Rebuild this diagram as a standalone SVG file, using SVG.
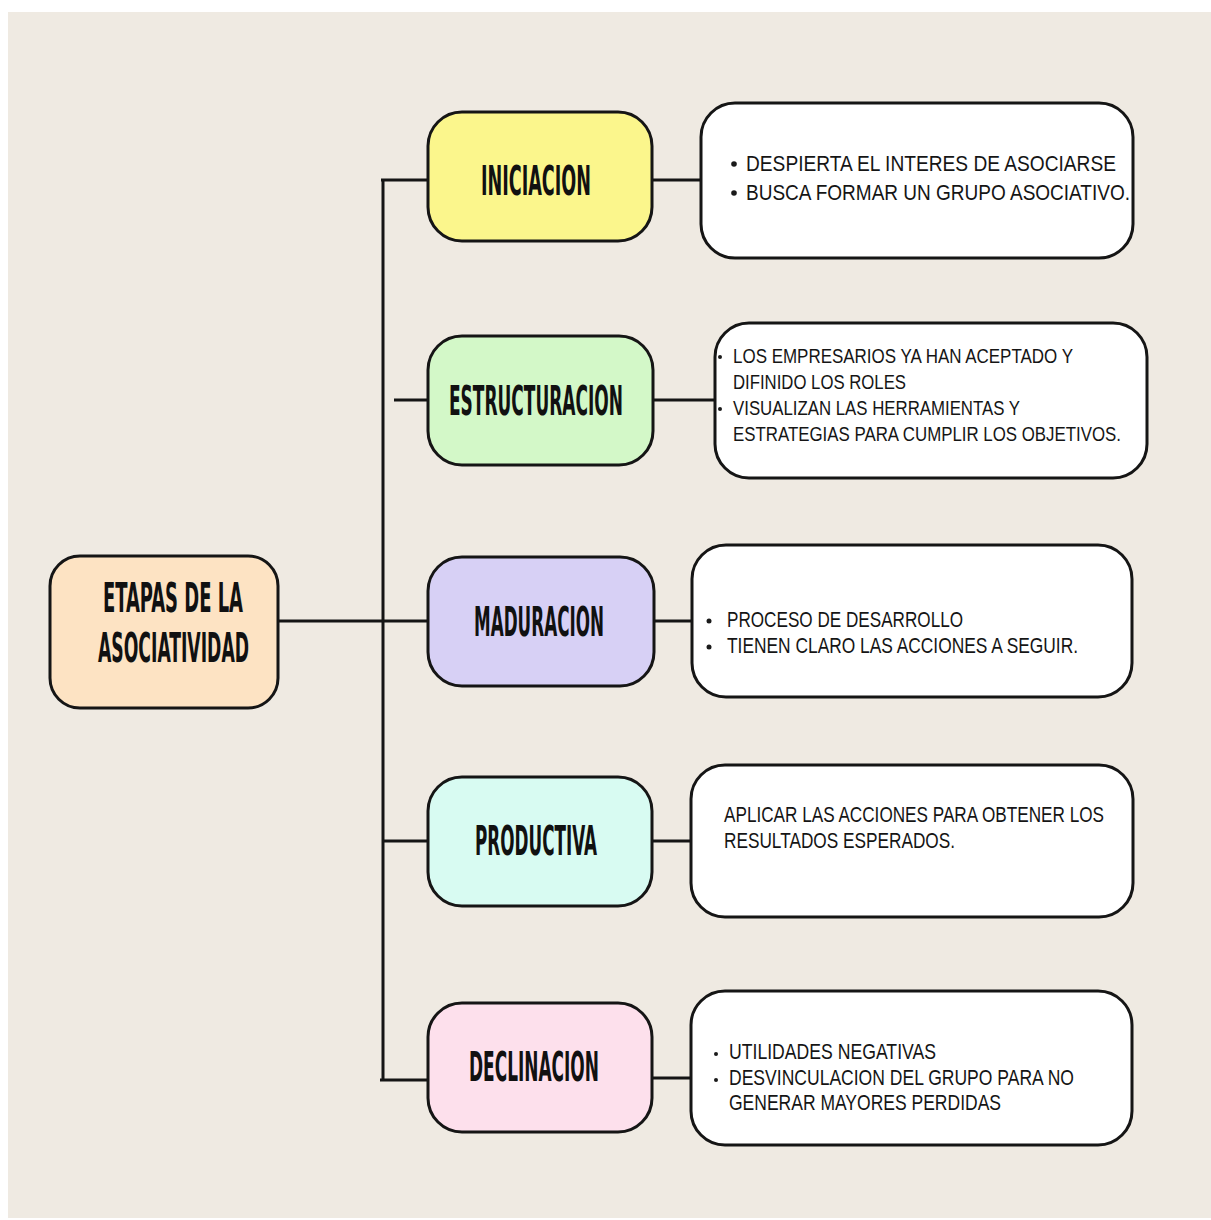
<svg xmlns="http://www.w3.org/2000/svg" width="1211" height="1220" viewBox="0 0 1211 1220">
<style>
.bg{fill:#efeae2}
.node{stroke:#151515;stroke-width:3}
.info{fill:#ffffff;stroke:#151515;stroke-width:3}
.conn{stroke:#151515;stroke-width:3;fill:none}
.title{font-family:"Liberation Sans Narrow","DejaVu Sans Condensed","Liberation Sans",sans-serif;font-weight:700;fill:#111;font-size:40px}
.body{font-family:"Liberation Sans",Arial,sans-serif;fill:#151515;font-size:22px}
.tight{font-size:20px}
.dot{fill:#1a1a1a}
</style>
<rect x="0" y="0" width="1211" height="1220" fill="#ffffff"/>
<rect class="bg" x="8" y="12" width="1203" height="1206"/>

<g id="connectors">
<line class="conn" x1="383" y1="179" x2="383" y2="1080"/>
<line class="conn" x1="381" y1="180" x2="428" y2="180"/>
<line class="conn" x1="394" y1="400" x2="428" y2="400"/>
<line class="conn" x1="278" y1="621" x2="428" y2="621"/>
<line class="conn" x1="383" y1="841" x2="428" y2="841"/>
<line class="conn" x1="380" y1="1080" x2="428" y2="1080"/>
<line class="conn" x1="652" y1="180" x2="701" y2="180"/>
<line class="conn" x1="653" y1="400" x2="715" y2="400"/>
<line class="conn" x1="654" y1="621" x2="692" y2="621"/>
<line class="conn" x1="652" y1="841" x2="691" y2="841"/>
<line class="conn" x1="652" y1="1078" x2="691" y2="1078"/>
</g>

<g id="etapas">
<rect class="node" x="50" y="556" width="228" height="152" rx="30" fill="#fde3c3"/>
<text class="title" x="103" y="612" textLength="140" lengthAdjust="spacingAndGlyphs">ETAPAS DE LA</text>
<text class="title" x="98" y="662" textLength="151" lengthAdjust="spacingAndGlyphs">ASOCIATIVIDAD</text>
</g>

<g id="iniciacion">
<rect class="node" x="428" y="112" width="224" height="129" rx="34" fill="#fbf68c"/>
<text class="title" x="481" y="195" textLength="110" lengthAdjust="spacingAndGlyphs">INICIACION</text>
</g>
<g id="estructuracion">
<rect class="node" x="428" y="336" width="225" height="129" rx="34" fill="#d3f8c8"/>
<text class="title" x="449" y="415" textLength="174" lengthAdjust="spacingAndGlyphs">ESTRUCTURACION</text>
</g>
<g id="maduracion">
<rect class="node" x="428" y="557" width="226" height="129" rx="34" fill="#d7d0f5"/>
<text class="title" x="474" y="636" textLength="130" lengthAdjust="spacingAndGlyphs">MADURACION</text>
</g>
<g id="productiva">
<rect class="node" x="428" y="777" width="224" height="129" rx="34" fill="#d8fbf2"/>
<text class="title" x="475" y="855" textLength="122" lengthAdjust="spacingAndGlyphs">PRODUCTIVA</text>
</g>
<g id="declinacion">
<rect class="node" x="428" y="1003" width="224" height="129" rx="34" fill="#fde0ec"/>
<text class="title" x="469" y="1081" textLength="130" lengthAdjust="spacingAndGlyphs">DECLINACION</text>
</g>

<g id="info-iniciacion">
<rect class="info" x="701" y="103" width="432" height="155" rx="34"/>
<circle class="dot" cx="734" cy="164" r="2.8"/>
<circle class="dot" cx="734" cy="193" r="2.8"/>
<text class="body" x="746" y="171" textLength="370" lengthAdjust="spacingAndGlyphs">DESPIERTA EL INTERES DE ASOCIARSE</text>
<text class="body" x="746" y="200" textLength="384" lengthAdjust="spacingAndGlyphs">BUSCA FORMAR UN GRUPO ASOCIATIVO.</text>
</g>
<g id="info-estructuracion">
<rect class="info" x="715" y="323" width="432" height="155" rx="34"/>
<circle class="dot" cx="720" cy="357" r="2"/>
<circle class="dot" cx="720" cy="409" r="2"/>
<text class="body tight" x="733" y="363" textLength="340" lengthAdjust="spacingAndGlyphs">LOS EMPRESARIOS YA HAN ACEPTADO Y</text>
<text class="body tight" x="733" y="389" textLength="173" lengthAdjust="spacingAndGlyphs">DIFINIDO LOS ROLES</text>
<text class="body tight" x="733" y="415" textLength="287" lengthAdjust="spacingAndGlyphs">VISUALIZAN LAS HERRAMIENTAS Y</text>
<text class="body tight" x="733" y="441" textLength="388" lengthAdjust="spacingAndGlyphs">ESTRATEGIAS PARA CUMPLIR LOS OBJETIVOS.</text>
</g>
<g id="info-maduracion">
<rect class="info" x="692" y="545" width="440" height="152" rx="34"/>
<circle class="dot" cx="709" cy="621" r="2.5"/>
<circle class="dot" cx="709" cy="647" r="2.5"/>
<text class="body" x="727" y="627" textLength="236" lengthAdjust="spacingAndGlyphs">PROCESO DE DESARROLLO</text>
<text class="body" x="727" y="653" textLength="351" lengthAdjust="spacingAndGlyphs">TIENEN CLARO LAS ACCIONES A SEGUIR.</text>
</g>
<g id="info-productiva">
<rect class="info" x="691" y="765" width="442" height="152" rx="34"/>
<text class="body" x="724" y="822" textLength="380" lengthAdjust="spacingAndGlyphs">APLICAR LAS ACCIONES PARA OBTENER LOS</text>
<text class="body" x="724" y="848" textLength="231" lengthAdjust="spacingAndGlyphs">RESULTADOS ESPERADOS.</text>
</g>
<g id="info-declinacion">
<rect class="info" x="691" y="991" width="441" height="154" rx="34"/>
<circle class="dot" cx="716" cy="1054" r="2"/>
<circle class="dot" cx="716" cy="1080" r="2"/>
<text class="body" x="729" y="1059" textLength="207" lengthAdjust="spacingAndGlyphs">UTILIDADES NEGATIVAS</text>
<text class="body" x="729" y="1085" textLength="345" lengthAdjust="spacingAndGlyphs">DESVINCULACION DEL GRUPO PARA NO</text>
<text class="body" x="729" y="1110" textLength="272" lengthAdjust="spacingAndGlyphs">GENERAR MAYORES PERDIDAS</text>
</g>
</svg>
